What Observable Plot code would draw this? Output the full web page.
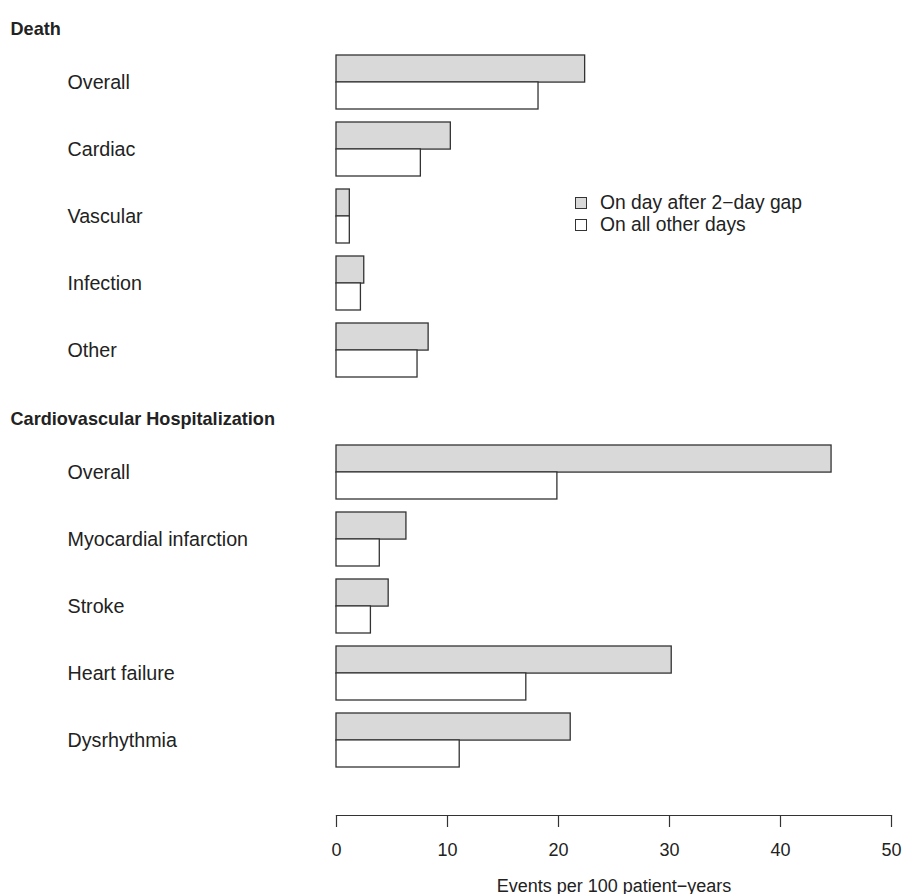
<!DOCTYPE html>
<html>
<head>
<meta charset="utf-8">
<script src="https://cdn.jsdelivr.net/npm/d3@7"></script>
<script src="https://cdn.jsdelivr.net/npm/@observablehq/plot@0.6"></script>
<style>
  html, body { margin: 0; padding: 0; background: #fff; }
  #chart { position: relative; width: 908px; height: 894px; font-family: "Liberation Sans", Arial, sans-serif; color: #222; }
  #chart svg { display: block; }
  .legend { position: absolute; left: 569px; top: 192px; font-size: 19.3px; line-height: 22px; }
  .legend .item { display: flex; align-items: center; }
  .legend .sw { width: 10px; height: 10px; border: 1.3px solid #333; margin: 0 13px 0 6px; box-sizing: content-box; }
</style>
</head>
<body>
<div id="chart"></div>
<script>
// ---- data ----
const deathTitle = "Death";
const deathCategories = ["Overall", "Cardiac", "Vascular", "Infection", "Other"];
const deathAfterGap = [22.4, 10.3, 1.2, 2.5, 8.3];
const deathOtherDays = [18.2, 7.6, 1.2, 2.2, 7.3];

const hospTitle = "Cardiovascular Hospitalization";
const hospCategories = ["Overall", "Myocardial infarction", "Stroke", "Heart failure", "Dysrhythmia"];
const hospAfterGap = [44.6, 6.3, 4.7, 30.2, 21.1];
const hospOtherDays = [19.9, 3.9, 3.1, 17.1, 11.1];

const seriesLabels = ["On day after 2\u2212day gap", "On all other days"];
const seriesFills = ["#d9d9d9", "#ffffff"];
const xTicks = [0, 10, 20, 30, 40, 50];
const xLabel = "Events per 100 patient\u2212years";

// ---- chart ----
const W = 908, ML = 336, MR = 17, PAD = 0.2;
const chart = document.getElementById("chart");

function group(title, cats, a, b, opts) {
  const rows = cats.map((c, i) => ({cat: c, a: a[i], b: b[i]}));
  const L = opts.height - opts.marginTop - opts.marginBottom - (opts.insetBottom || 0);
  const half = (L / (cats.length + PAD)) * (1 - PAD) / 2;
  const marks = [
    Plot.barX(rows, {y: "cat", x: "a", fill: seriesFills[0], stroke: "#333", strokeWidth: 1.3, insetBottom: half}),
    Plot.barX(rows, {y: "cat", x: "b", fill: seriesFills[1], stroke: "#333", strokeWidth: 1.3, insetTop: half}),
    Plot.text(rows, {y: "cat", text: "cat", frameAnchor: "left", textAnchor: "start", dx: 67 - ML, fill: "#222", fontSize: 19.7}),
    Plot.text([title], {text: d => d, frameAnchor: "top-left", textAnchor: "start", dx: 10 - ML, dy: -19, fontWeight: "bold", fill: "#222", fontSize: 18.1})
  ];
  if (opts.axis) {
    marks.push(Plot.frame({anchor: "bottom", stroke: "#333", strokeWidth: 1.2}));
    marks.push(Plot.axisX({ticks: xTicks, tickSize: 12, tickPadding: 16, tickFormat: d => String(d), stroke: "#333", strokeWidth: 1.2,
      label: xLabel, labelAnchor: "center", labelOffset: 76, labelArrow: "none", fill: "#222"}));
  }
  return Plot.plot({
    width: W, height: opts.height,
    marginTop: opts.marginTop, marginBottom: opts.marginBottom, marginLeft: ML, marginRight: MR,
    style: {fontSize: "18px", fontFamily: "'Liberation Sans', Arial, sans-serif", color: "#222", background: "#fff", overflow: "visible"},
    x: {domain: [0, 50], axis: null},
    y: {domain: cats, padding: PAD, axis: null, insetBottom: opts.insetBottom || 0},
    marks
  });
}

chart.appendChild(group(deathTitle, deathCategories, deathAfterGap, deathOtherDays,
  {height: 391, marginTop: 41, marginBottom: 0}));
chart.appendChild(group(hospTitle, hospCategories, hospAfterGap, hospOtherDays,
  {height: 503, marginTop: 40, marginBottom: 79, insetBottom: 34, axis: true}));

const legend = document.createElement("div");
legend.className = "legend";
seriesLabels.forEach((s, i) => {
  const it = document.createElement("div");
  it.className = "item";
  const sw = document.createElement("span");
  sw.className = "sw";
  sw.style.background = seriesFills[i];
  const t = document.createElement("span");
  t.textContent = s;
  it.appendChild(sw); it.appendChild(t);
  legend.appendChild(it);
});
chart.appendChild(legend);
</script>
</body>
</html>
